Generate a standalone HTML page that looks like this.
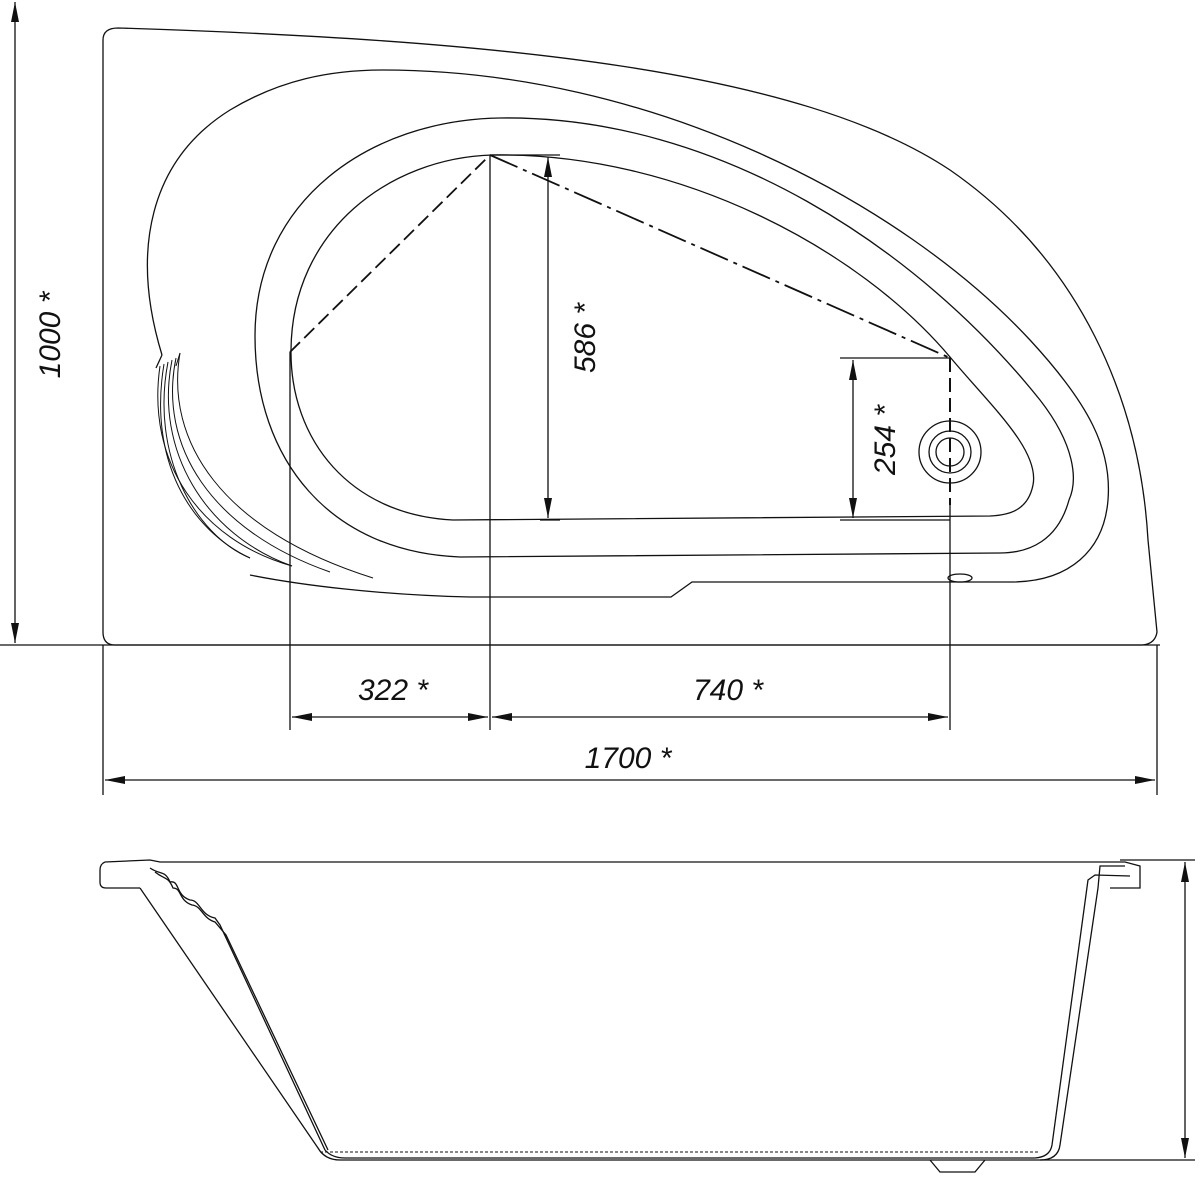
<!DOCTYPE html>
<html><head><meta charset="utf-8"><style>
html,body{margin:0;padding:0;background:#fff}
svg{display:block}
text{font-family:"Liberation Sans",sans-serif;font-style:italic;font-size:30px;fill:#111}
</style></head><body>
<svg width="1200" height="1200" viewBox="0 0 1200 1200" xmlns="http://www.w3.org/2000/svg">
<defs>
<marker id="a" viewBox="0 0 20 8" refX="20" refY="4" markerWidth="20" markerHeight="8" orient="auto-start-reverse" markerUnits="userSpaceOnUse"><path d="M0 0 L20 4 L0 8 Z" fill="#111"/></marker>
</defs>
<g fill="none" stroke="#111" stroke-width="1.3">
<path d="M103 40 Q103 28 118 28 C500 40 800 70 950 170 C1080 260 1140 400 1148 540 L1157 632 Q1155 645 1140 645 L115 645 Q103 645 103 632 Z"/>
<path d="M162 355 C130 250 150 160 230 110 C280 80 330 70 383 70 C650 70 900 200 1030 340 C1090 405 1112 450 1108 500 C1104 550 1070 582 1011 582 L692 582 L671 597 L470 597 C380 595 300 585 250 575"/>
<path d="M162 355 L156 368"/>
<path d="M460 557 C330 552 255 460 255 336 C255 200 370 120 500 118 C720 115 920 250 1040 400 C1075 445 1078 480 1069 500 C1058 540 1030 553 1000 553 Z"/>
<path d="M453 520 C350 515 290 440 291 350 C292 230 390 158 492 155 C680 152 860 250 950 357 C990 405 1040 450 1033 485 C1028 510 1010 515 990 516 Z"/>
<g stroke-width="1">
<path d="M180 353 L176 366"/>
<path d="M180 353 C165 440 220 530 373 578"/>
<path d="M176 358 C158 445 210 530 330 572"/>
<path d="M172 360 C154 450 205 535 292 566"/>
<path d="M168 362 C150 455 195 535 250 558"/>
<path d="M164 364 C148 460 190 530 250 558"/>
<path d="M160 366 C146 462 200 540 292 566"/>
</g>
<circle cx="950" cy="452" r="31"/><circle cx="950" cy="452" r="21"/><circle cx="950" cy="452" r="14"/>
<ellipse cx="960" cy="578" rx="12" ry="4"/>
<path d="M290 352 L490 155" stroke-dasharray="14 6" stroke-width="1.8"/>
<path d="M490 155 L950 358" stroke-dasharray="30 6 4 6" stroke-width="1.8"/>
<path d="M950 358 L950 505" stroke-dasharray="14 6" stroke-width="2"/>
<path d="M0 645 L1160 645"/>
<path d="M103 645 L103 795 M1157 645 L1157 795"/>
<path d="M290 352 L290 730 M490 155 L490 730 M950 505 L950 730"/>
<path d="M15 2 L15 643" marker-start="url(#a)" marker-end="url(#a)"/>
<path d="M105 780 L1155 780" marker-start="url(#a)" marker-end="url(#a)"/>
<path d="M292 717 L488 717" marker-start="url(#a)" marker-end="url(#a)"/>
<path d="M492 717 L948 717" marker-start="url(#a)" marker-end="url(#a)"/>
<path d="M548 157 L548 518" marker-start="url(#a)" marker-end="url(#a)"/>
<path d="M490 155 L560 155 M540 520 L560 520"/>
<path d="M853 360 L853 518" marker-start="url(#a)" marker-end="url(#a)"/>
<path d="M840 358 L950 358 M840 520 L950 520"/>
<path d="M105 862 L150 860 L160 862 L1125 862 L1140 866 L1140 888 L1110 888 M105 862 Q100 864 100 870 L100 882 Q100 888 106 888 L140 888"/>
<path d="M140 888 L318 1148 Q325 1160 340 1160 L1040 1160 Q1058 1160 1060 1145 L1098 888 L1100 866 L1125 866"/>
<path d="M150 868 C160 875 165 870 170 882 C180 880 175 895 190 900 C200 900 200 915 215 918 L220 925 L325 1150 Q332 1158 345 1158 L1035 1158 Q1050 1157 1052 1145 L1088 880 L1095 875 L1130 876"/>
<path d="M155 872 C165 880 168 876 173 888 C182 888 178 900 192 905 C202 906 202 918 215 922 L226 935 L328 1150"/>
<path d="M320 1152 L1040 1152" stroke-dasharray="3 2" stroke-width="1"/>
<path d="M930 1160 L940 1172 L975 1172 L985 1160"/>
<path d="M1120 860 L1195 860 M1040 1160 L1195 1160"/>
<path d="M1185 862 L1185 1158" marker-start="url(#a)" marker-end="url(#a)"/>
</g>
<text transform="translate(60,335) rotate(-90)" text-anchor="middle">1000 *</text>
<text x="628" y="768" text-anchor="middle">1700 *</text>
<text x="393" y="700" text-anchor="middle">322 *</text>
<text x="728" y="700" text-anchor="middle">740 *</text>
<text transform="translate(595,338) rotate(-90)" text-anchor="middle">586 *</text>
<text transform="translate(895,440) rotate(-90)" text-anchor="middle">254 *</text>
</svg>
</body></html>
